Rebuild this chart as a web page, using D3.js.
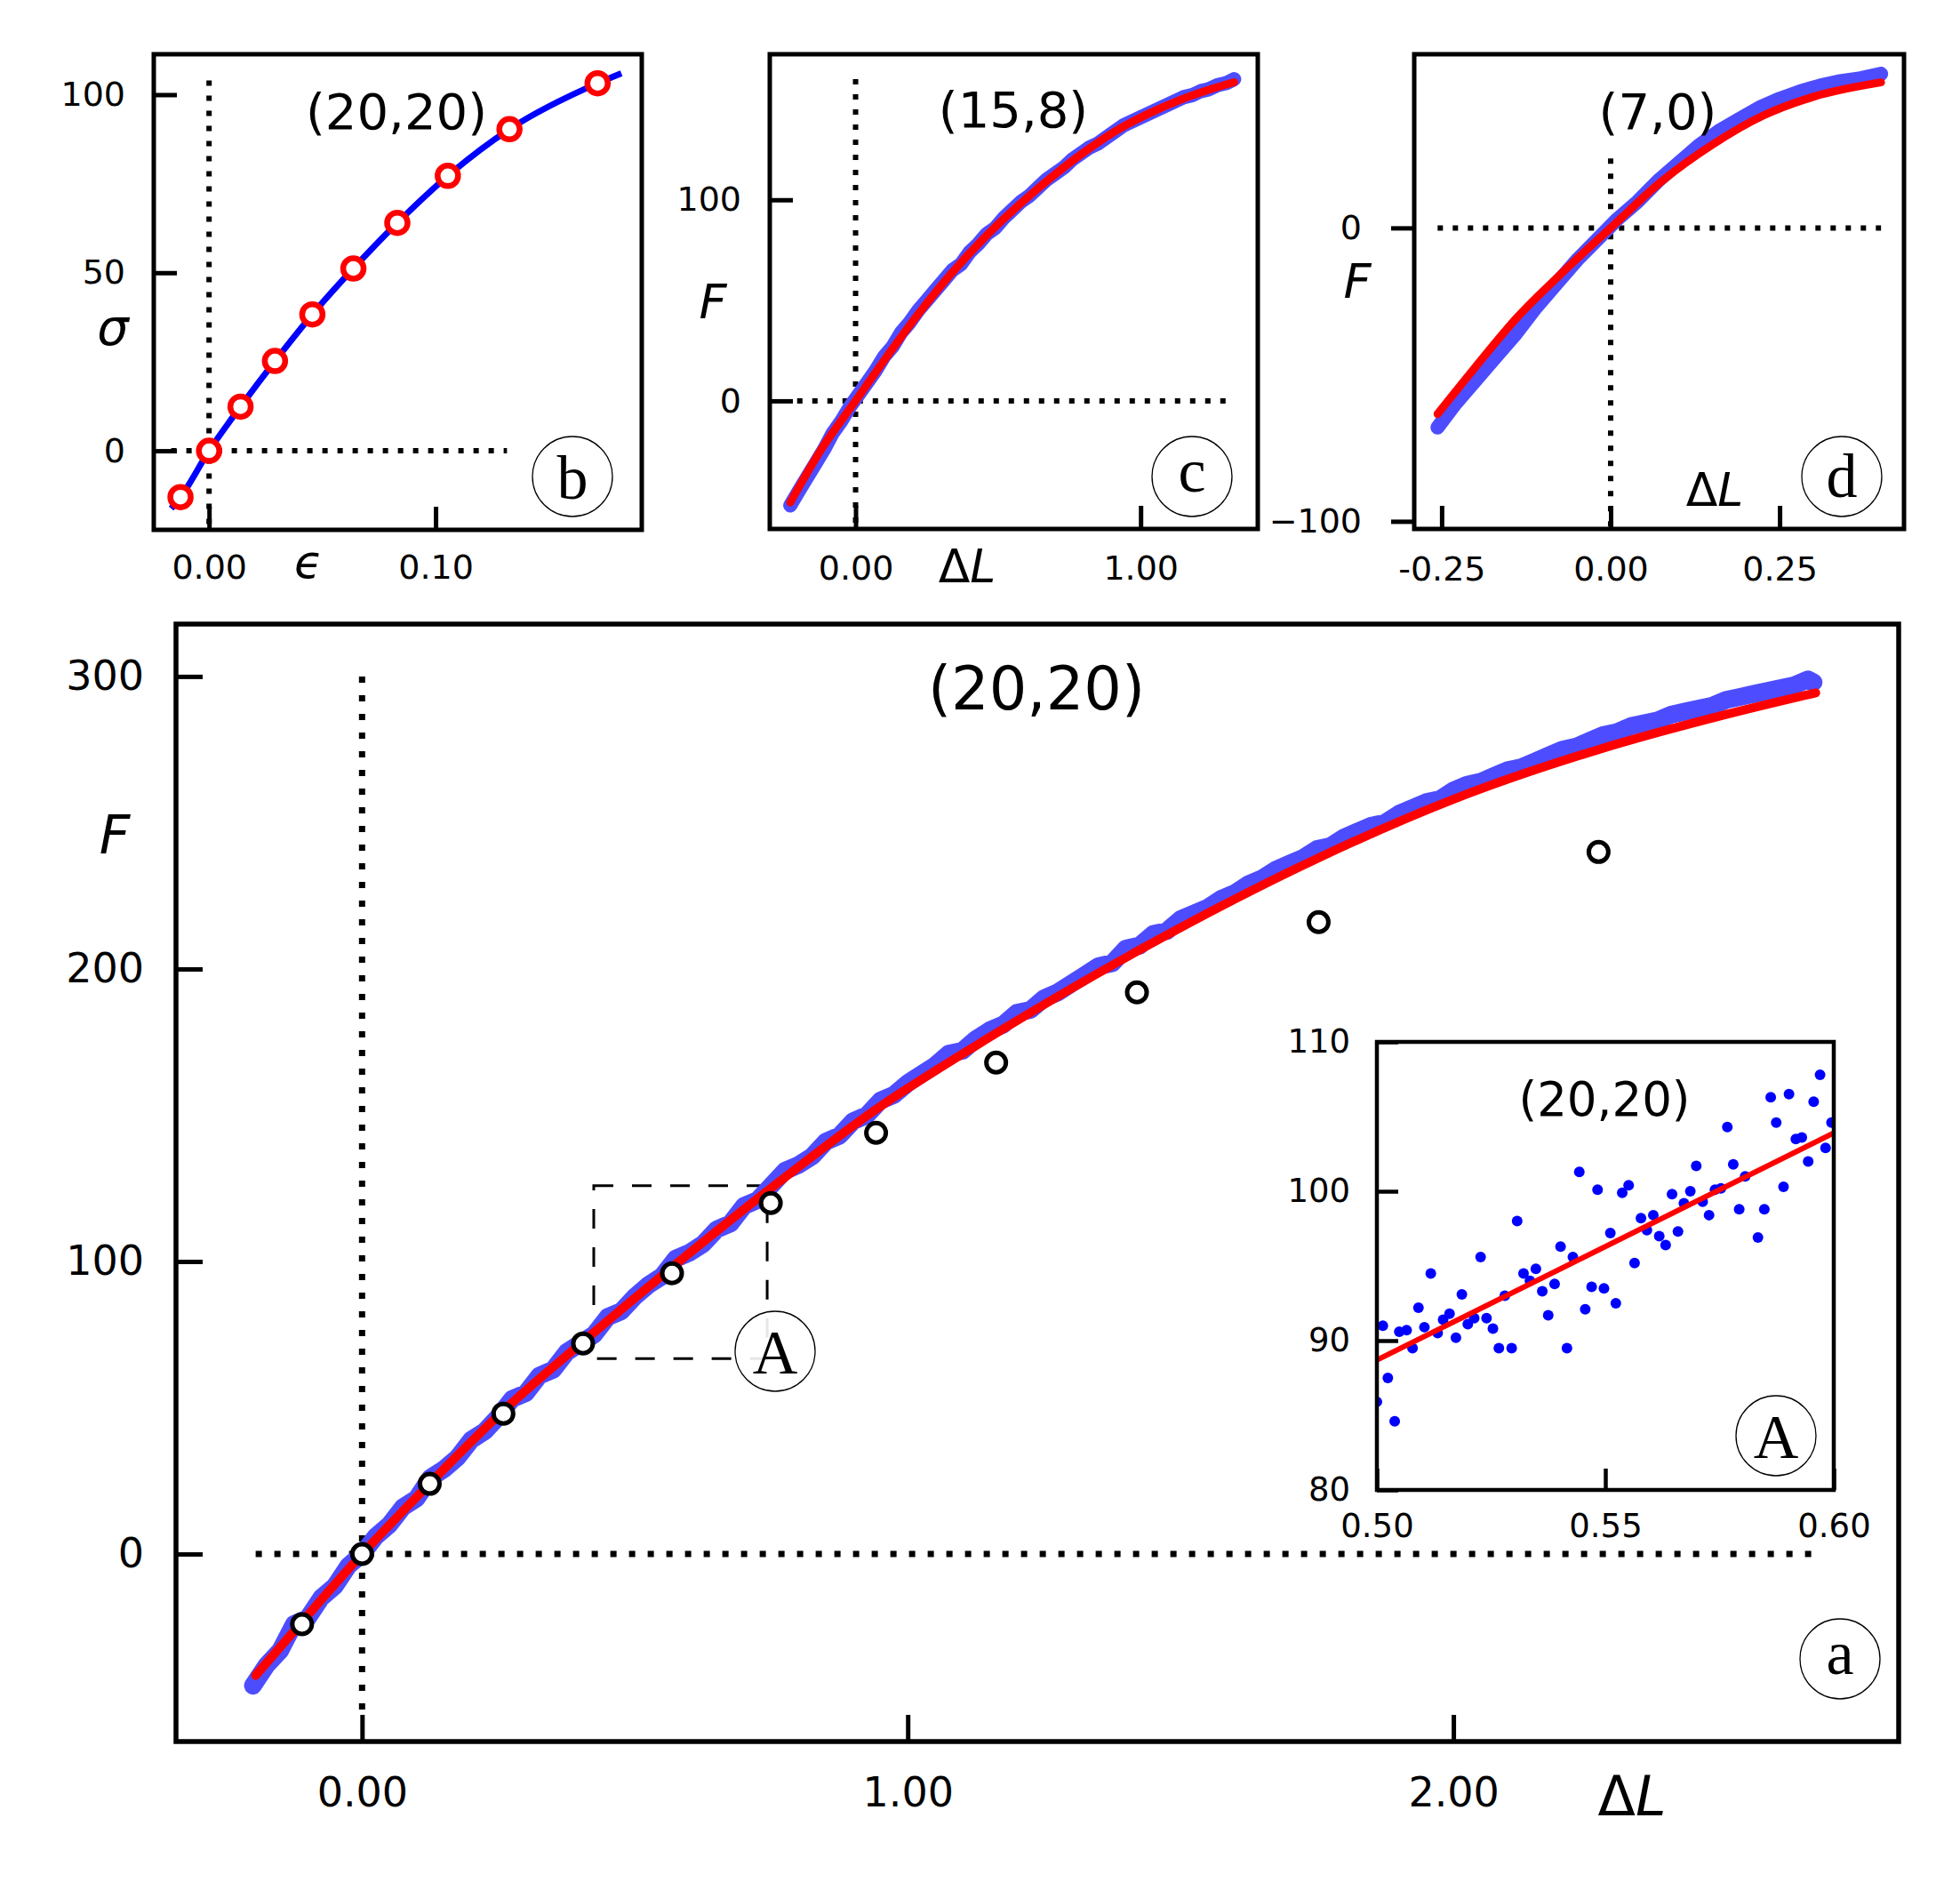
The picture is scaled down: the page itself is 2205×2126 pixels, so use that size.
<!DOCTYPE html>
<html>
<head>
<meta charset="utf-8">
<script src="https://cdn.jsdelivr.net/npm/d3@7"></script>
<style>
body { margin: 0; background: #fff; }
svg { display: block; }
</style>
</head>
<body>
<script>
'use strict';

// ---------- data ----------

// (a) main panel, (20,20): noisy simulation, fit and open-circle markers
const aBlueDL = [-0.20, -0.175, -0.15, -0.125, -0.10, -0.075, -0.05, -0.025, 0.00, 0.025, 0.05, 0.075,
  0.10, 0.125, 0.15, 0.175, 0.20, 0.225, 0.25, 0.275, 0.30, 0.325, 0.35, 0.375,
  0.40, 0.425, 0.45, 0.475, 0.50, 0.525, 0.55, 0.575, 0.60, 0.625, 0.65, 0.675,
  0.70, 0.725, 0.75, 0.775, 0.80, 0.825, 0.85, 0.875, 0.90, 0.925, 0.95, 0.975,
  1.00, 1.025, 1.05, 1.075, 1.10, 1.125, 1.15, 1.175, 1.20, 1.225, 1.25, 1.275,
  1.30, 1.325, 1.35, 1.375, 1.40, 1.425, 1.45, 1.475, 1.50, 1.525, 1.55, 1.575,
  1.60, 1.625, 1.65, 1.675, 1.70, 1.725, 1.75, 1.775, 1.80, 1.825, 1.85, 1.875,
  1.90, 1.925, 1.95, 1.975, 2.00, 2.025, 2.05, 2.075, 2.10, 2.125, 2.15, 2.175,
  2.20, 2.225, 2.25, 2.275, 2.30, 2.325, 2.35, 2.375, 2.40, 2.425, 2.45, 2.475,
  2.50, 2.525, 2.55, 2.575, 2.60, 2.625, 2.65, 2.66];
const aBlueF = [-45, -38, -33, -24, -22, -15, -11, -4, 0, 6, 10, 16,
  19, 26, 29, 33, 39, 42, 47, 53, 55, 61, 63, 69,
  72, 75, 81, 83, 88, 92, 95, 101, 103, 106, 111, 113,
  119, 121, 126, 131, 133, 136, 141, 143, 148, 150, 155, 157,
  161, 164, 167, 171, 172, 176, 179, 181, 185, 186, 190, 192,
  195, 198, 201, 202, 207, 208, 212, 213, 217, 219, 221, 224,
  226, 229, 231, 234, 236, 238, 241, 242, 245, 247, 249, 250,
  253, 255, 257, 258, 261, 263, 264, 266, 268, 269, 271, 273,
  275, 276, 278, 280, 281, 283, 284, 285, 287, 288, 289, 290,
  292, 293, 294, 295, 296, 297, 299, 298];
const aFitDL = [-0.195, -0.1, 0, 0.1, 0.259, 0.405, 0.568, 0.749, 0.942, 1.162, 1.42, 1.753, 2.0, 2.266, 2.5, 2.664];
const aFitF = [-41.5, -21, 0, 19.5, 49, 72.6, 98, 125, 152, 178, 206, 238, 258, 275, 287, 294.4];
const aOpenDL = [-0.110, 0, 0.124, 0.259, 0.405, 0.568, 0.749, 0.942, 1.162, 1.420, 1.753, 2.266];
const aOpenF = [-24, 0, 24, 48, 72, 96, 120, 144, 168, 192, 216, 240];
const aXTicks = [0, 1, 2];
const aXTickLabels = ['0.00', '1.00', '2.00'];
const aYTicks = [0, 100, 200, 300];
const aYTickLabels = ['0', '100', '200', '300'];
const aBoxDL = [0.4246, 0.7424];
const aBoxF = [66.8, 125.9];

// inset A: zoom on 0.50..0.60
const insDL = [0.5000, 0.5013, 0.5024, 0.5039, 0.5049, 0.5065, 0.5078, 0.5091, 0.5104, 0.5118, 0.5133, 0.5145,
  0.5159, 0.5173, 0.5186, 0.5199, 0.5213, 0.5227, 0.5240, 0.5254, 0.5267, 0.5280, 0.5295, 0.5307,
  0.5321, 0.5335, 0.5348, 0.5362, 0.5375, 0.5389, 0.5402, 0.5416, 0.5429, 0.5443, 0.5456, 0.5470,
  0.5483, 0.5497, 0.5511, 0.5523, 0.5537, 0.5551, 0.5564, 0.5578, 0.5591, 0.5605, 0.5618, 0.5632,
  0.5646, 0.5659, 0.5672, 0.5686, 0.5699, 0.5713, 0.5727, 0.5740, 0.5753, 0.5767, 0.5780, 0.5793,
  0.5806, 0.5834, 0.5848, 0.5862, 0.5874, 0.5890, 0.5902, 0.5917, 0.5930, 0.5944, 0.5956, 0.5970,
  0.5982, 0.5995];
const insF = [85.9, 91.0, 87.5, 84.6, 90.6, 90.7, 89.5, 92.2, 90.9, 94.5, 90.5, 91.4,
  91.8, 90.2, 93.1, 91.1, 91.5, 95.6, 91.5, 90.8, 89.5, 93.0, 89.5, 98.0,
  94.5, 94.0, 94.8, 93.3, 91.7, 93.8, 96.3, 89.5, 95.6, 101.3, 92.1, 93.6,
  100.1, 93.5, 97.2, 92.5, 99.9, 100.4, 95.2, 98.2, 97.4, 98.4, 97.0, 96.4,
  99.8, 97.3, 99.2, 100.0, 101.7, 99.3, 98.4, 100.1, 100.2, 104.3, 101.8, 98.8,
  101.0, 96.9, 98.8, 106.3, 104.6, 100.3, 106.5, 103.5, 103.6, 102.0, 106.0, 107.8,
  102.9, 104.6];
const insFitDL = [0.5, 0.6];
const insFitF = [88.7, 103.9];
const insXTicks = [0.5, 0.55, 0.6];
const insXTickLabels = ['0.50', '0.55', '0.60'];
const insYTicks = [80, 90, 100, 110];
const insYTickLabels = ['80', '90', '100', '110'];

// (b) stress-strain, (20,20)
const bCurveEps = [-0.0167, -0.0126, 0, 0.0139, 0.0291, 0.0456, 0.0637, 0.0831, 0.1054, 0.1326, 0.1715, 0.182];
const bCurveSig = [-16.2, -13.0, 0, 12.4, 25.2, 38.3, 51.2, 64.0, 77.2, 90.3, 103.2, 106];
const bEps = [-0.0126, 0, 0.0139, 0.0291, 0.0456, 0.0637, 0.0831, 0.1054, 0.1326, 0.1715];
const bSig = [-13.0, 0, 12.4, 25.2, 38.3, 51.2, 64.0, 77.2, 90.3, 103.2];
const bXTicks = [0, 0.1];
const bXTickLabels = ['0.00', '0.10'];
const bYTicks = [0, 50, 100];
const bYTickLabels = ['0', '50', '100'];

// (c) (15,8)
const cBlueDL = [-0.229, -0.20, -0.17, -0.14, -0.11, -0.08, -0.05, -0.02, 0.01, 0.04, 0.07, 0.10, 0.13, 0.16,
  0.19, 0.22, 0.25, 0.28, 0.31, 0.34, 0.37, 0.40, 0.43, 0.46, 0.49, 0.52, 0.55, 0.58, 0.61, 0.64,
  0.67, 0.70, 0.73, 0.76, 0.79, 0.82, 0.85, 0.88, 0.91, 0.94, 0.97, 1.00, 1.03, 1.06, 1.09, 1.12,
  1.15, 1.18, 1.21, 1.24, 1.27, 1.30, 1.328];
const cBlueF = [-52, -45, -38, -31, -24, -16, -10, -3, 3, 9, 15, 22, 27, 34,
  39, 45, 50, 55, 60, 65, 68, 74, 78, 83, 86, 91, 95, 99, 102, 106,
  110, 113, 116, 120, 123, 126, 128, 131, 134, 137, 139, 141, 143, 145, 147, 149,
  151, 152, 154, 155, 157, 158, 160];
const cFitDL = [-0.229, -0.122, 0, 0.107, 0.222, 0.337, 0.451, 0.566, 0.681, 0.795, 0.910, 1.024, 1.139, 1.239, 1.328];
const cFitF = [-50.5, -24.5, 0, 21.5, 43.5, 63.5, 81, 96.5, 110.5, 123, 134, 142.6, 149.7, 154.7, 158.5];
const cXTicks = [0, 1];
const cXTickLabels = ['0.00', '1.00'];
const cYTicks = [0, 100];
const cYTickLabels = ['0', '100'];

// (d) (7,0)
const dBlueDL = [-0.256, -0.23, -0.20, -0.17, -0.14, -0.11, -0.08, -0.05, -0.02, 0.01, 0.04, 0.07,
  0.10, 0.13, 0.16, 0.19, 0.22, 0.25, 0.28, 0.31, 0.34, 0.37, 0.40];
const dBlueF = [-68, -60, -52, -44, -36, -27, -19, -11, -4, 3, 9, 16,
  22, 28, 33, 37, 41, 44, 46.5, 48.5, 50, 51, 52.5];
const dFitDL = [-0.256, -0.2, -0.1375, -0.075, 0, 0.075, 0.15, 0.225, 0.3, 0.4];
const dFitF = [-63.4, -47.4, -30.3, -16, 0, 15.8, 28.3, 38.2, 44.7, 49.6];
const dXTicks = [-0.25, 0, 0.25];
const dXTickLabels = ['-0.25', '0.00', '0.25'];
const dYTicks = [-100, 0];
const dYTickLabels = ['\u2212100', '0'];

// ---------- drawing ----------
const W = 2205, H = 2126;
const BLUE_BAND = '#4d4dff';
const svg = d3.select('body').append('svg').attr('width', W).attr('height', H)
  .style('font-family', "'DejaVu Sans', sans-serif");
svg.append('rect').attr('width', W).attr('height', H).attr('fill', '#fff');

let clipId = 0;
function makePanel(cfg) {
  const x = d3.scaleLinear().domain(cfg.xDomain).range([cfg.left, cfg.right]);
  const y = d3.scaleLinear().domain(cfg.yDomain).range([cfg.bottom, cfg.top]);
  const g = svg.append('g');
  g.append('rect').attr('x', cfg.left).attr('y', cfg.top)
    .attr('width', cfg.right - cfg.left).attr('height', cfg.bottom - cfg.top).attr('fill', '#fff');
  const id = 'clip' + (clipId++);
  svg.append('clipPath').attr('id', id).append('rect')
    .attr('x', cfg.left).attr('y', cfg.top).attr('width', cfg.right - cfg.left).attr('height', cfg.bottom - cfg.top);
  const plot = g.append('g').attr('clip-path', 'url(#' + id + ')');
  return { x, y, g, plot, cfg };
}

function finishPanel(p) {
  const c = p.cfg;
  p.g.append('rect').attr('x', c.left).attr('y', c.top)
    .attr('width', c.right - c.left).attr('height', c.bottom - c.top)
    .attr('fill', 'none').attr('stroke', '#000').attr('stroke-width', c.frameW);

  const xAxis = d3.axisBottom(p.x).tickValues(c.xTicks).tickFormat((d, i) => c.xLabels[i])
    .tickSize(-c.tick).tickSizeOuter(0).tickPadding(c.xPad);
  const yAxis = d3.axisLeft(p.y).tickValues(c.yTicks).tickFormat((d, i) => c.yLabels[i])
    .tickSize(c.yOut ? c.tick : -c.tick).tickSizeOuter(0).tickPadding(c.yPad);

  [[xAxis, 'translate(0,' + c.bottom + ')'], [yAxis, 'translate(' + c.left + ',0)']].forEach(([ax, tr]) => {
    const a = p.g.append('g').attr('transform', tr).call(ax)
      .attr('font-family', null).attr('font-size', null);
    a.select('.domain').remove();
    a.selectAll('line').attr('stroke', '#000').attr('stroke-width', c.tickW);
    a.selectAll('text').attr('font-size', c.tickFont).attr('fill', '#000');
  });
}

const line = (x, y, curve) => d3.line().x(d => x(d[0])).y(d => y(d[1])).curve(curve || d3.curveLinear);
const zip = (a, b) => a.map((v, i) => [v, b[i]]);

function dotted(p, pts, w, dash) {
  p.plot.append('path').attr('d', line(p.x, p.y)(pts)).attr('fill', 'none')
    .attr('stroke', '#000').attr('stroke-width', w).attr('stroke-dasharray', dash);
}

function band(p, xs, ys, w) {
  p.plot.append('path').attr('d', line(p.x, p.y)(zip(xs, ys)))
    .attr('fill', 'none').attr('stroke', BLUE_BAND).attr('stroke-width', w)
    .attr('stroke-linecap', 'round').attr('stroke-linejoin', 'round');
}

function fit(p, xs, ys, w) {
  p.plot.append('path').attr('d', line(p.x, p.y, d3.curveMonotoneX)(zip(xs, ys)))
    .attr('fill', 'none').attr('stroke', '#ff0000').attr('stroke-width', w).attr('stroke-linecap', 'round');
}

function circled(g, cx, cy, letter, dy) {
  g.append('circle').attr('cx', cx).attr('cy', cy).attr('r', 45)
    .attr('fill', '#fff').attr('fill-opacity', 0.9).attr('stroke', '#000').attr('stroke-width', 1.3);
  g.append('text').attr('x', cx).attr('y', cy + dy).attr('text-anchor', 'middle')
    .attr('font-family', "'Liberation Serif', 'DejaVu Serif', serif").attr('font-size', 70).text(letter);
}

function label(g, x, y, size, parts, anchor) {
  const t = g.append('text').attr('x', x).attr('y', y).attr('font-size', size)
    .attr('text-anchor', anchor || 'middle');
  parts.forEach(([s, italic]) => t.append('tspan').attr('font-style', italic ? 'italic' : 'normal').text(s));
  return t;
}
const dL = [['\u0394', false], ['L', true]];

// ----- panel b -----
const pb = makePanel({ left: 173, right: 722, top: 61, bottom: 596,
  xDomain: [-0.0244, 0.191], yDomain: [-22.2, 111.35],
  xTicks: bXTicks, xLabels: bXTickLabels, yTicks: bYTicks, yLabels: bYTickLabels,
  tick: 26, tickW: 5, frameW: 5, xPad: 28, yPad: 32, tickFont: 38 });
dotted(pb, [[0, 104], [0, -22.2]], 6, '6,11');
dotted(pb, [[-0.0167, 0], [0.1315, 0]], 6, '6,11');
pb.plot.append('path').attr('d', line(pb.x, pb.y, d3.curveMonotoneX)(zip(bCurveEps, bCurveSig)))
  .attr('fill', 'none').attr('stroke', '#0000ff').attr('stroke-width', 7);
pb.plot.selectAll('circle.m').data(zip(bEps, bSig)).enter().append('circle')
  .attr('cx', d => pb.x(d[0])).attr('cy', d => pb.y(d[1])).attr('r', 11.5)
  .attr('fill', '#fff').attr('stroke', '#ff0000').attr('stroke-width', 6.5);
finishPanel(pb);
label(pb.g, 446, 145, 56, [['(20,20)', false]]);
label(pb.g, 127, 388, 56, [['\u03c3', true]]);
label(pb.g, 347, 650, 52, [['\u03f5', true]]);
circled(pb.g, 644, 536, 'b', 25);

// ----- panel c -----
const pc = makePanel({ left: 866, right: 1415, top: 61, bottom: 595,
  xDomain: [-0.301, 1.411], yDomain: [-63.7, 172.4],
  xTicks: cXTicks, xLabels: cXTickLabels, yTicks: cYTicks, yLabels: cYTickLabels,
  tick: 26, tickW: 5, frameW: 5, xPad: 30, yPad: 32, tickFont: 38 });
dotted(pc, [[0, 160], [0, -63.7]], 6, '6,11');
dotted(pc, [[-0.205, 0], [1.325, 0]], 6, '6,11');
band(pc, cBlueDL, cBlueF, 16);
fit(pc, cFitDL, cFitF, 9);
finishPanel(pc);
label(pc.g, 1140, 143, 56, [['(15,8)', false]]);
label(pc.g, 802, 358, 54, [['F', true]]);
label(pc.g, 1088, 655, 52, dL);
circled(pc.g, 1341, 536, 'c', 17);

// ----- panel d -----
const pd = makePanel({ left: 1591, right: 2142, top: 61, bottom: 595,
  xDomain: [-0.2906, 0.434], yDomain: [-102.6, 59.2],
  xTicks: dXTicks, xLabels: dXTickLabels, yTicks: dYTicks, yLabels: dYTickLabels,
  tick: 26, tickW: 5, frameW: 5, xPad: 31, yPad: 33, tickFont: 38, yOut: true });
dotted(pd, [[0, 23.7], [0, -102.6]], 6, '6,11');
dotted(pd, [[-0.256, 0], [0.4, 0]], 6, '6,11');
band(pd, dBlueDL, dBlueF, 16);
fit(pd, dFitDL, dFitF, 9);
finishPanel(pd);
label(pd.g, 1865, 145, 56, [['(7,0)', false]]);
label(pd.g, 1527, 335, 54, [['F', true]]);
label(pd.g, 1929, 569, 52, dL);
circled(pd.g, 2072, 536, 'd', 23);

// ----- panel a (main) -----
const pa = makePanel({ left: 198, right: 2136, top: 702, bottom: 1959,
  xDomain: [-0.341, 2.816], yDomain: [-64.1, 317.9],
  xTicks: aXTicks, xLabels: aXTickLabels, yTicks: aYTicks, yLabels: aYTickLabels,
  tick: 30, tickW: 5, frameW: 5.5, xPad: 40, yPad: 36, tickFont: 46 });
dotted(pa, [[0, 300], [0, -56]], 7, '7,14');
dotted(pa, [[-0.195, 0], [2.657, 0]], 7, '7,14');
pa.plot.append('rect')
  .attr('x', pa.x(aBoxDL[0])).attr('y', pa.y(aBoxF[1]))
  .attr('width', pa.x(aBoxDL[1]) - pa.x(aBoxDL[0])).attr('height', pa.y(aBoxF[0]) - pa.y(aBoxF[1]))
  .attr('fill', 'none').attr('stroke', '#000').attr('stroke-width', 3).attr('stroke-dasharray', '22,21');
band(pa, aBlueDL, aBlueF, 20);
fit(pa, aFitDL, aFitF, 10);
pa.plot.selectAll('circle.o').data(zip(aOpenDL, aOpenF)).enter().append('circle')
  .attr('cx', d => pa.x(d[0])).attr('cy', d => pa.y(d[1])).attr('r', 11)
  .attr('fill', '#fff').attr('stroke', '#000').attr('stroke-width', 5);
circled(pa.plot, 872, 1520, 'A', 25);
circled(pa.plot, 2070, 1866, 'a', 17);
finishPanel(pa);
label(pa.g, 1166, 798, 67, [['(20,20)', false]]);
label(pa.g, 129, 960, 60, [['F', true]]);
label(pa.g, 1836, 2042, 62, dL);

// ----- inset A -----
const pi = makePanel({ left: 1549, right: 2063, top: 1172, bottom: 1676,
  xDomain: [0.5, 0.6], yDomain: [80, 110],
  xTicks: insXTicks, xLabels: insXTickLabels, yTicks: insYTicks, yLabels: insYTickLabels,
  tick: 24, tickW: 4.5, frameW: 4.5, xPad: 27, yPad: 30, tickFont: 37 });
pi.plot.selectAll('circle.p').data(zip(insDL, insF)).enter().append('circle')
  .attr('cx', d => pi.x(d[0])).attr('cy', d => pi.y(d[1])).attr('r', 6).attr('fill', '#0000ff');
pi.plot.append('path').attr('d', line(pi.x, pi.y)(zip(insFitDL, insFitF)))
  .attr('fill', 'none').attr('stroke', '#ff0000').attr('stroke-width', 6);
finishPanel(pi);
label(pi.g, 1805, 1255, 53, [['(20,20)', false]]);
circled(pi.g, 1998, 1615, 'A', 25);
</script>
</body>
</html>
